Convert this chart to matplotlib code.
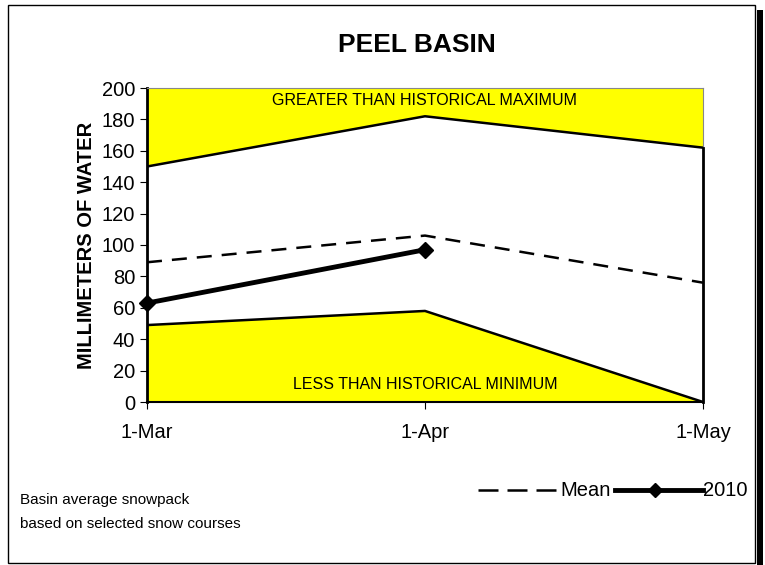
import matplotlib.pyplot as plt
from matplotlib.patches import Rectangle
from matplotlib.lines import Line2D

plt.rcParams['font.family'] = ['Liberation Sans', 'DejaVu Sans']

dates = ['1-Mar', '1-Apr', '1-May']
hist_max = [150, 182, 162]
hist_min = [49, 58, 0]
mean = [89, 106, 76]
y2010 = [63, 97]

x = list(range(len(dates)))

W, H = 765, 565
fig = plt.figure(figsize=(W / 100, H / 100), dpi=100)

# outer frame with shadow on the right
fig.patches.append(Rectangle((757 / W, 0), 6 / W, 555 / H, transform=fig.transFigure,
                             facecolor='black', edgecolor='none', zorder=0))
fig.patches.append(Rectangle((8 / W, 2 / H), 747 / W, 558 / H, transform=fig.transFigure,
                             facecolor='white', edgecolor='black', linewidth=1, zorder=1))

ax = fig.add_axes([147 / W, 163 / H, 556 / W, 314 / H])
ax.set_zorder(2)

ax.fill_between(x, hist_max, 200, color='#ffff00', linewidth=0)
ax.fill_between(x, 0, hist_min, color='#ffff00', linewidth=0)
ax.plot(x, hist_max, color='black', linewidth=1.8)
ax.plot(x, hist_min, color='black', linewidth=1.8)
ax.plot(x, mean, color='black', linewidth=1.8, linestyle=(0, (6, 4)))
ax.plot(x[:len(y2010)], y2010, color='black', linewidth=3.5, marker='D', markersize=8, clip_on=False, zorder=4)
ax.plot([x[-1], x[-1]], [0, hist_max[-1]], color='black', linewidth=2, clip_on=False, zorder=3)

ax.text(1, 192, 'GREATER THAN HISTORICAL MAXIMUM', ha='center', va='center', fontsize=11.5)
ax.text(1, 11, 'LESS THAN HISTORICAL MINIMUM', ha='center', va='center', fontsize=11.5)

ax.set_xlim(0, 2)
ax.set_ylim(0, 200)
ax.set_yticks(range(0, 201, 20))
ax.set_xticks(x)
ax.set_xticklabels(dates)
ax.tick_params(axis='both', labelsize=14.5, direction='out', length=5, color='black')
ax.tick_params(axis='x', pad=10)
ax.set_ylabel('MILLIMETERS OF WATER', fontsize=14.5, fontweight='bold', labelpad=4)
ax.spines['left'].set_linewidth(2)
ax.spines['bottom'].set_linewidth(1.5)
ax.spines['top'].set_color('#888888')
ax.spines['right'].set_color('#888888')

fig.text(0.545, 1 - 45 / H, 'PEEL BASIN', ha='center', va='center', fontsize=19, fontweight='bold')
fig.text(20 / W, 1 - 500 / H, 'Basin average snowpack', fontsize=11, va='center')
fig.text(20 / W, 1 - 524 / H, 'based on selected snow courses', fontsize=11, va='center')

# legend, laid out by hand like the original
ly = 1 - 490 / H
fig.add_artist(Line2D([478 / W, 556 / W], [ly, ly], color='black', linewidth=1.8,
                      linestyle=(0, (8, 3.6)), transform=fig.transFigure))
fig.text(560 / W, ly, 'Mean', fontsize=14.5, va='center')
fig.add_artist(Line2D([615 / W, 703 / W], [ly, ly], color='black', linewidth=3.5,
                      transform=fig.transFigure))
fig.add_artist(Line2D([655 / W], [ly], color='black', marker='D', markersize=7,
                      transform=fig.transFigure))
fig.text(703 / W, ly, '2010', fontsize=14.5, va='center')

fig.savefig('out.png', dpi=100)
